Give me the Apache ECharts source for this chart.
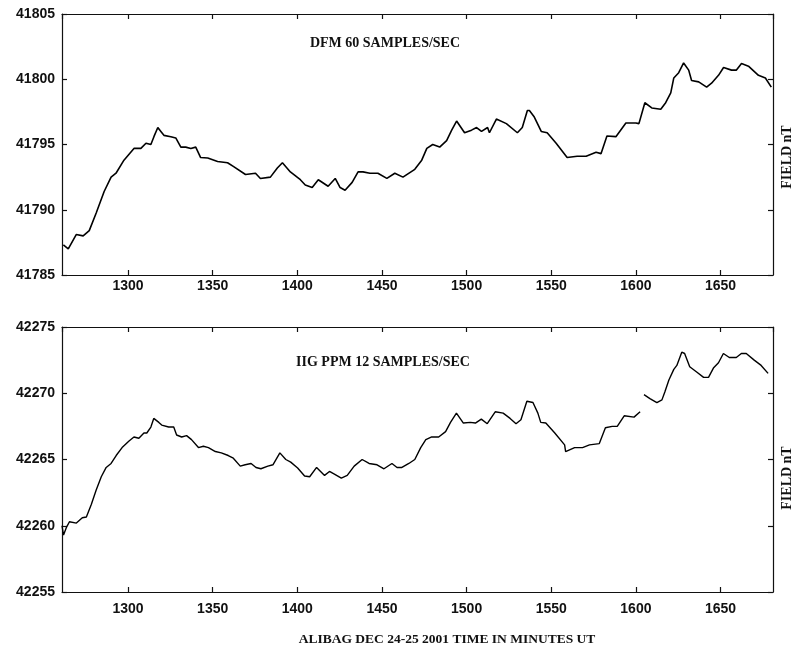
<!DOCTYPE html>
<html>
<head>
<meta charset="utf-8">
<script src="https://cdn.jsdelivr.net/npm/echarts@6/dist/echarts.min.js"></script>
<style>
html,body{margin:0;padding:0;background:#fff;}
#chart{width:792px;height:659px;}
</style>
</head>
<body>
<div id="chart"></div>
<script>
// Upper panel: DFM 60 samples/sec (minutes UT, field nT)
const dfmTime = [1261.8,1264.7,1269.4,1273.5,1277.1,1281.2,1285.9,1290.0,1292.9,1297.6,1303.5,1307.6,1310.6,1313.5,1315.3,1317.6,1319.4,1321.2,1325.3,1328.2,1331.2,1334.1,1337.1,1340.0,1342.9,1347.1,1352.9,1358.8,1362.4,1369.4,1375.3,1378.2,1384.1,1388.2,1391.2,1395.9,1401.8,1404.7,1408.8,1412.4,1418.2,1422.4,1425.3,1428.2,1432.4,1435.9,1438.8,1442.9,1447.6,1452.9,1457.6,1462.4,1469.4,1473.5,1476.5,1480.0,1484.1,1488.2,1491.2,1494.1,1498.8,1502.9,1505.9,1508.8,1512.4,1513.5,1517.6,1523.5,1530.0,1532.9,1535.9,1537.1,1540.0,1544.1,1547.6,1552.9,1559.4,1565.3,1570.6,1576.5,1579.4,1582.9,1588.2,1594.1,1600.0,1601.8,1605.3,1609.4,1614.7,1617.6,1620.6,1622.4,1625.3,1628.2,1631.2,1632.9,1637.1,1641.8,1644.7,1648.8,1651.8,1656.5,1659.4,1662.4,1666.5,1672.4,1676.5,1680.0];
const dfmField = [41787.3,41787.0,41788.1,41788.0,41788.4,41789.75,41791.4,41792.5,41792.8,41793.8,41794.7,41794.7,41795.1,41795.0,41795.6,41796.3,41796.0,41795.7,41795.6,41795.5,41794.8,41794.8,41794.7,41794.8,41794.0,41793.97,41793.7,41793.6,41793.3,41792.7,41792.8,41792.4,41792.5,41793.2,41793.6,41792.9,41792.3,41791.9,41791.7,41792.3,41791.8,41792.4,41791.7,41791.5,41792.1,41792.9,41792.9,41792.8,41792.8,41792.4,41792.8,41792.5,41793.1,41793.8,41794.7,41795.0,41794.8,41795.3,41796.1,41796.8,41795.9,41796.1,41796.3,41796.0,41796.3,41795.9,41796.95,41796.6,41795.9,41796.3,41797.6,41797.6,41797.1,41796.0,41795.9,41795.1,41794.0,41794.1,41794.1,41794.4,41794.3,41795.65,41795.6,41796.65,41796.65,41796.6,41798.2,41797.8,41797.7,41798.2,41798.95,41800.1,41800.5,41801.25,41800.7,41799.9,41799.8,41799.4,41799.7,41800.3,41800.9,41800.7,41800.7,41801.2,41801.0,41800.3,41800.1,41799.4];

// Lower panel: IIG PPM 12 samples/sec (null = data gap)
const ppmTime = [1261.0,1261.9,1263.7,1265.4,1269.5,1273.0,1275.4,1278.3,1281.2,1284.2,1287.1,1290.0,1293.0,1296.5,1300.6,1303.5,1306.4,1309.4,1311.1,1313.5,1315.2,1318.2,1319.9,1324.0,1327.0,1328.7,1331.7,1334.6,1337.5,1341.6,1344.5,1347.5,1351.6,1355.1,1359.2,1362.2,1366.3,1369.2,1372.7,1375.6,1378.5,1382.6,1385.6,1389.7,1393.2,1396.1,1400.2,1404.3,1407.3,1411.4,1416.1,1419.0,1421.9,1426.0,1429.5,1433.6,1438.3,1442.4,1447.1,1451.2,1455.9,1458.9,1461.8,1465.9,1469.4,1472.9,1475.9,1479.4,1483.5,1487.6,1490.5,1494.0,1498.1,1502.2,1505.2,1508.7,1512.2,1516.9,1521.6,1525.7,1529.2,1532.1,1535.6,1539.2,1542.1,1543.8,1546.8,1552.1,1557.9,1558.5,1563.8,1568.5,1572.6,1578.4,1582.0,1586.0,1589.0,1593.1,1598.9,1602.5,1603.7,1604.8,1608.3,1612.4,1615.4,1617.1,1619.5,1622.4,1624.2,1627.1,1628.8,1631.8,1635.9,1640.0,1642.9,1645.8,1648.8,1651.7,1655.2,1659.3,1662.3,1665.2,1669.9,1674.0,1678.1];
const ppmField = [42260.0,42259.3,42259.9,42260.3,42260.2,42260.6,42260.66,42261.6,42262.7,42263.7,42264.4,42264.7,42265.3,42265.9,42266.4,42266.7,42266.6,42267.0,42267.0,42267.45,42268.1,42267.8,42267.6,42267.45,42267.45,42266.85,42266.7,42266.8,42266.5,42265.9,42266.0,42265.9,42265.6,42265.5,42265.3,42265.1,42264.5,42264.6,42264.7,42264.4,42264.3,42264.5,42264.6,42265.5,42265.0,42264.8,42264.36,42263.75,42263.7,42264.4,42263.8,42264.1,42263.9,42263.6,42263.8,42264.5,42265.0,42264.7,42264.6,42264.3,42264.7,42264.4,42264.4,42264.7,42265.0,42265.9,42266.5,42266.7,42266.7,42267.1,42267.8,42268.5,42267.75,42267.8,42267.75,42268.05,42267.7,42268.6,42268.5,42268.1,42267.7,42268.0,42269.4,42269.3,42268.5,42267.8,42267.75,42267.0,42266.1,42265.6,42265.9,42265.9,42266.1,42266.2,42267.4,42267.5,42267.5,42268.3,42268.2,42268.6,null,42269.9,42269.6,42269.3,42269.5,42270.1,42271.0,42271.8,42272.1,42273.1,42273.0,42272.0,42271.6,42271.2,42271.2,42271.9,42272.3,42273.0,42272.7,42272.7,42273.0,42273.0,42272.5,42272.1,42271.5];

const timeRange = [1261, 1681];
const dfmRange = [41785, 41805];
const ppmRange = [42255, 42275];

const zip = (a, b) => a.map((t, i) => [t, b[i]]);

const chart = echarts.init(document.getElementById('chart'), null, {renderer: 'canvas'});

const plain = v => String(v);
const labelFont = {color: '#111', fontFamily: 'Liberation Sans, Arial, sans-serif', fontWeight: 'bold', fontSize: 14, formatter: plain};
const lineStyle = {color: '#111', width: 1.2};

function xAxes(gi, margin) {
  return [
    {gridIndex: gi, type: 'value', position: 'bottom', min: timeRange[0], max: timeRange[1],
     splitNumber: 8, minInterval: 50, maxInterval: 50,
     axisLine: {show: true, onZero: false, lineStyle: lineStyle},
     axisTick: {show: true, inside: true, length: 5, lineStyle: lineStyle},
     axisLabel: Object.assign({margin: margin, showMinLabel: false, showMaxLabel: false}, labelFont),
     splitLine: {show: false}},
    {gridIndex: gi, type: 'value', position: 'top', min: timeRange[0], max: timeRange[1],
     splitNumber: 8, minInterval: 50, maxInterval: 50,
     axisLine: {show: true, onZero: false, lineStyle: lineStyle},
     axisTick: {show: true, inside: true, length: 5, lineStyle: lineStyle},
     axisLabel: {show: false}, splitLine: {show: false}}
  ];
}
function yAxes(gi, range) {
  return [
    {gridIndex: gi, type: 'value', position: 'left', min: range[0], max: range[1], interval: 5,
     axisLine: {show: true, onZero: false, lineStyle: lineStyle},
     axisTick: {show: true, inside: true, length: 5, lineStyle: lineStyle},
     axisLabel: Object.assign({margin: 7}, labelFont),
     splitLine: {show: false}},
    {gridIndex: gi, type: 'value', position: 'right', min: range[0], max: range[1], interval: 5,
     axisLine: {show: true, onZero: false, lineStyle: lineStyle},
     axisTick: {show: true, inside: true, length: 5, lineStyle: lineStyle},
     axisLabel: {show: false}, splitLine: {show: false}}
  ];
}

const serif = 'Liberation Serif, Times New Roman, serif';

const option = {
  backgroundColor: '#fff',
  animation: false,
  grid: [
    {left: 62, top: 14, width: 711, height: 261},
    {left: 62, top: 327, width: 711, height: 265}
  ],
  xAxis: [].concat(xAxes(0, 4), xAxes(1, 10)),
  yAxis: [].concat(yAxes(0, dfmRange), yAxes(1, ppmRange)),
  series: [
    {type: 'line', xAxisIndex: 0, yAxisIndex: 0, data: zip(dfmTime, dfmField),
     showSymbol: false, symbol: 'none', lineStyle: {color: '#000', width: 1.6}},
    {type: 'line', xAxisIndex: 2, yAxisIndex: 2, data: zip(ppmTime, ppmField),
     showSymbol: false, symbol: 'none', connectNulls: false, lineStyle: {color: '#000', width: 1.4}}
  ],
  graphic: [
    {type: 'text', x: 385, y: 43, style: {text: 'DFM 60 SAMPLES/SEC', fill: '#111', font: 'bold 14px ' + serif, align: 'center', verticalAlign: 'middle'}},
    {type: 'text', x: 383, y: 362, style: {text: 'IIG PPM 12 SAMPLES/SEC', fill: '#111', font: 'bold 14px ' + serif, align: 'center', verticalAlign: 'middle'}},
    {type: 'text', x: 787, y: 157, rotation: Math.PI / 2, style: {text: 'FIELD nT', fill: '#111', font: 'bold 14px ' + serif, align: 'center', verticalAlign: 'middle'}},
    {type: 'text', x: 787, y: 478, rotation: Math.PI / 2, style: {text: 'FIELD nT', fill: '#111', font: 'bold 14px ' + serif, align: 'center', verticalAlign: 'middle'}},
    {type: 'text', x: 447, y: 640, style: {text: 'ALIBAG DEC 24-25 2001 TIME IN MINUTES UT', fill: '#111', font: 'bold 13.5px ' + serif, align: 'center', verticalAlign: 'middle'}}
  ]
};
chart.setOption(option);
</script>
</body>
</html>
